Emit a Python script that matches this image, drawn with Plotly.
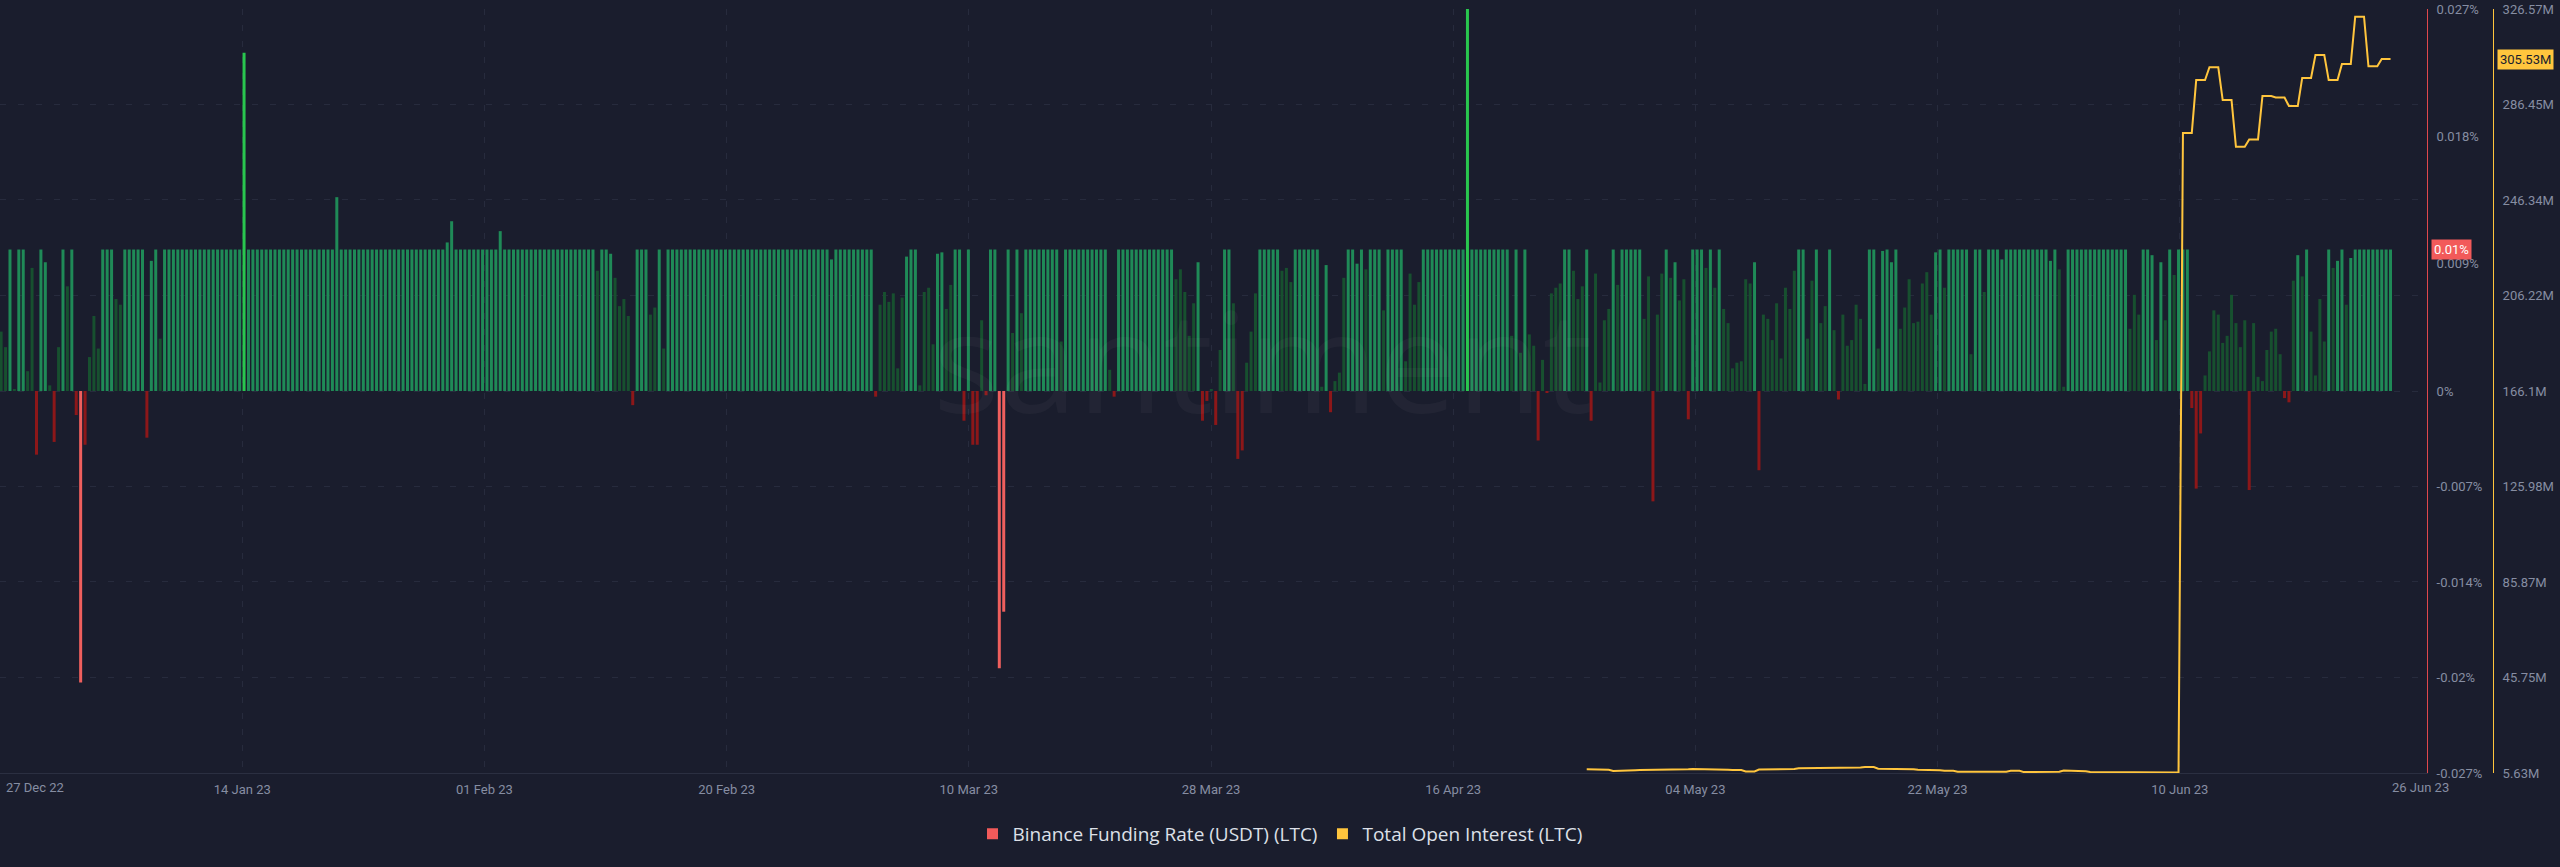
import pandas as pd
import plotly.graph_objects as go

# ---------------- data ----------------
# Binance funding rate (USDT) for LTC, in percent, one value per 8h period
funding_pct = [
    0.0042, 0.0031, 0.01, 0.0001, 0.01, 0.01, 0.0014, 0.0087, -0.0045, 0.01,
    0.0091, 0.0004, -0.0036, 0.0031, 0.01, 0.0074, 0.01, -0.0017, -0.0206, -0.0038,
    0.0024, 0.0053, 0.003, 0.01, 0.01, 0.01, 0.0065, 0.0061, 0.01, 0.01,
    0.01, 0.01, 0.01, -0.0033, 0.0092, 0.01, 0.0037, 0.01, 0.01, 0.01,
    0.01, 0.01, 0.01, 0.01, 0.01, 0.01, 0.01, 0.01, 0.01, 0.01,
    0.01, 0.01, 0.01, 0.01, 0.01, 0.0239, 0.01, 0.01, 0.01, 0.01,
    0.01, 0.01, 0.01, 0.01, 0.01, 0.01, 0.01, 0.01, 0.01, 0.01,
    0.01, 0.01, 0.01, 0.01, 0.01, 0.01, 0.0137, 0.01, 0.01, 0.01,
    0.01, 0.01, 0.01, 0.01, 0.01, 0.01, 0.01, 0.01, 0.01, 0.01,
    0.01, 0.01, 0.01, 0.01, 0.01, 0.01, 0.01, 0.01, 0.01, 0.01,
    0.01, 0.0105, 0.012, 0.01, 0.01, 0.01, 0.01, 0.01, 0.01, 0.01,
    0.01, 0.01, 0.01, 0.0113, 0.01, 0.01, 0.01, 0.01, 0.01, 0.01,
    0.01, 0.01, 0.01, 0.01, 0.01, 0.01, 0.01, 0.01, 0.01, 0.01,
    0.01, 0.01, 0.01, 0.01, 0.01, 0.0085, 0.01, 0.01, 0.0097, 0.008,
    0.006, 0.0065, 0.0053, -0.001, 0.01, 0.01, 0.01, 0.0054, 0.0059, 0.01,
    0.003, 0.01, 0.01, 0.01, 0.01, 0.01, 0.01, 0.01, 0.01, 0.01,
    0.01, 0.01, 0.01, 0.01, 0.01, 0.01, 0.01, 0.01, 0.01, 0.01,
    0.01, 0.01, 0.01, 0.01, 0.01, 0.01, 0.01, 0.01, 0.01, 0.01,
    0.01, 0.01, 0.01, 0.01, 0.01, 0.01, 0.01, 0.01, 0.0093, 0.01,
    0.01, 0.01, 0.01, 0.01, 0.01, 0.01, 0.01, 0.01, -0.0004, 0.0061,
    0.007, 0.0063, 0.0069, 0.0016, 0.0066, 0.0095, 0.01, 0.01, 0.0004, 0.007,
    0.0073, 0.0033, 0.0097, 0.0098, 0.0058, 0.0075, 0.01, 0.01, -0.0021, 0.01,
    -0.0038, -0.0038, 0.005, -0.0003, 0.01, 0.01, -0.0196, -0.0156, 0.01, 0.0041,
    0.01, 0.0055, 0.01, 0.01, 0.01, 0.01, 0.01, 0.01, 0.01, 0.01,
    0.0035, 0.01, 0.01, 0.01, 0.01, 0.01, 0.01, 0.01, 0.01, 0.01,
    0.01, 0.0015, -0.0004, 0.01, 0.01, 0.01, 0.01, 0.01, 0.01, 0.01,
    0.01, 0.01, 0.01, 0.01, 0.01, 0.01, 0.0079, 0.0086, 0.007, 0.0039,
    0.0062, 0.0091, -0.0021, -0.0007, 0.0001, -0.0024, 0.0029, 0.01, 0.01, 0.0062,
    -0.0048, -0.0042, 0.002, 0.0042, 0.0069, 0.01, 0.01, 0.01, 0.01, 0.01,
    0.0085, 0.0087, 0.0077, 0.01, 0.01, 0.01, 0.01, 0.01, 0.01, 0.0003,
    0.0089, -0.0015, 0.0007, 0.0013, 0.008, 0.01, 0.01, 0.009, 0.01, 0.0086,
    0.01, 0.01, 0.01, 0.0057, 0.01, 0.01, 0.01, 0.01, 0.0021, 0.0083,
    0.0061, 0.0077, 0.01, 0.01, 0.01, 0.01, 0.01, 0.01, 0.01, 0.01,
    0.01, 0.01, 0.027, 0.01, 0.01, 0.01, 0.01, 0.01, 0.01, 0.01,
    0.01, 0.01, 0.0039, 0.01, 0.0027, 0.01, 0.004, 0.0032, -0.0035, 0.0022,
    -0.0001, 0.0069, 0.0073, 0.0076, 0.01, 0.01, 0.0085, 0.0065, 0.0074, 0.01,
    -0.0021, 0.0083, 0.0006, 0.005, 0.0058, 0.01, 0.0075, 0.01, 0.01, 0.01,
    0.01, 0.01, 0.0051, 0.0081, -0.0078, 0.0054, 0.0083, 0.01, 0.008, 0.0091,
    0.0064, 0.0079, -0.002, 0.01, 0.01, 0.01, 0.0087, 0.01, 0.0073, 0.01,
    0.0058, 0.0048, 0.0016, 0.002, 0.0021, 0.0079, 0.0076, 0.0091, -0.0056, 0.0054,
    0.0051, 0.0036, 0.0062, 0.0023, 0.0073, 0.0058, 0.0085, 0.01, 0.01, 0.0037,
    0.0078, 0.01, 0.0048, 0.006, 0.01, 0.0043, -0.0006, 0.0054, 0.0032, 0.0036,
    0.0061, 0.0051, 0.0005, 0.01, 0.01, 0.003, 0.0099, 0.01, 0.0091, 0.01,
    0.0044, 0.0059, 0.0079, 0.0048, 0.0049, 0.0076, 0.0084, 0.0054, 0.0098, 0.01,
    0.0073, 0.01, 0.01, 0.01, 0.01, 0.01, 0.0026, 0.01, 0.01, 0.007,
    0.01, 0.01, 0.01, 0.0093, 0.01, 0.01, 0.01, 0.01, 0.01, 0.01,
    0.01, 0.01, 0.01, 0.01, 0.0092, 0.01, 0.0086, 0.0003, 0.01, 0.01,
    0.01, 0.01, 0.01, 0.01, 0.01, 0.01, 0.01, 0.01, 0.01, 0.01,
    0.01, 0.01, 0.0044, 0.0068, 0.0054, 0.01, 0.01, 0.0096, 0.0036, 0.0091,
    0.005, 0.01, 0.0082, 0.01, 0.01, 0.01, -0.0012, -0.0069, -0.003, 0.0011,
    0.0028, 0.0057, 0.0054, 0.0034, 0.0039, 0.0068, 0.0048, 0.0031, 0.005, -0.007,
    0.0048, 0.001, 0.0007, 0.0029, 0.0042, 0.0044, 0.0026, -0.0005, -0.0008, 0.0078,
    0.0096, 0.0081, 0.01, 0.0042, 0.0011, 0.0065, 0.0035, 0.01, 0.0087, 0.0092,
    0.01, 0.0061, 0.0094, 0.01, 0.01, 0.01, 0.01, 0.01, 0.01, 0.01,
    0.01, 0.01,
]

# Total open interest (LTC), millions USD, one value per day (26 Apr .. 9 Jun)
oi_daily_low_m = [
    7.2, 7.0, 6.5, 6.8, 6.9, 7.0, 7.1, 7.2, 7.3, 7.1,
    7.0, 6.9, 6.3, 7.1, 7.2, 7.3, 7.6, 7.6, 7.6, 7.7,
    7.9, 8.1, 7.4, 7.3, 7.2, 7.0, 6.8, 6.6, 6.2, 6.2,
    6.2, 6.2, 6.6, 6.0, 6.1, 6.2, 6.7, 6.4, 6.1, 6.0,
    5.9, 5.9, 5.9, 5.8, 5.8,
]
# Total open interest (LTC), millions USD, one value per day (10 Jun .. 25 Jun)
oi_daily_high_m = [
    274.5, 296.7, 302.1, 288.3, 268.7, 271.8, 290.0, 289.4,
    285.8, 297.6, 307.2, 296.7, 303.5, 323.3, 302.5, 305.53,
]

first_period = "2022-12-26 08:00"
oi_first_period_index = 359          # first 8h period that has open-interest data

x_tick_labels = ["14 Jan 23", "01 Feb 23", "20 Feb 23", "10 Mar 23", "28 Mar 23",
                 "16 Apr 23", "04 May 23", "22 May 23", "10 Jun 23"]
x_edge_labels = ["27 Dec 22", "26 Jun 23"]

fr_tick_vals = [0.027, 0.018, 0.009, 0, -0.00675, -0.0135, -0.02025, -0.027]
fr_tick_text = ["0.027%", "0.018%", "0.009%", "0%", "-0.007%", "-0.014%", "-0.02%", "-0.027%"]
oi_tick_vals = [5.63, 45.75, 85.87, 125.98, 166.10, 206.22, 246.34, 286.45, 326.57]
oi_tick_text = ["5.63M", "45.75M", "85.87M", "125.98M", "166.1M", "206.22M",
                "246.34M", "286.45M", "326.57M"]

funding_marker_value = 0.01
oi_last_value = 305.53

# ---------------- derived tables ----------------
period = pd.Timedelta(hours=8)
times = pd.date_range(first_period, periods=len(funding_pct), freq="8h")

oi_series = [None] * oi_first_period_index
for v in oi_daily_low_m + oi_daily_high_m:
    oi_series.extend([v, v, v])   # one daily value held over its three 8h periods


def bar_color(v):
    if v < -0.01:
        return "#ef5f5d"
    if v < 0:
        return "#8c1719"
    if v > 0.018:
        return "#29c64e"
    if v >= 0.0089:
        return "#1f8a57"
    return "#17502f"


colors = [bar_color(v) for v in funding_pct]

# ---------------- layout helpers ----------------
W, H = 2560, 867
PLOT_R = 2427          # right edge of plot area (px)
PLOT_T, PLOT_B = 9, 773
BAR0_PX, BAR_STEP_PX = 1.15, 4.4166


def px_to_time(px):
    return times[0] + (px - BAR0_PX) / BAR_STEP_PX * period


x_range = [px_to_time(0), px_to_time(PLOT_R)]
tick_spacing_px = 242.2
x_tickvals = [px_to_time(tick_spacing_px * (k + 1)) for k in range(len(x_tick_labels))]

bg = "#1a1d2d"
tick_color = "#868da2"
grid_color = "#272b3d"
tick_font = dict(family="Roboto", size=13, color=tick_color)

fig = go.Figure()

fig.add_trace(go.Bar(
    x=times, y=funding_pct, marker=dict(color=colors, line=dict(width=0)),
    yaxis="y", showlegend=False, hoverinfo="skip",
))
fig.add_trace(go.Scatter(
    x=times, y=oi_series, yaxis="y2", mode="lines",
    line=dict(color="#ffc53d", width=2), showlegend=False, hoverinfo="skip",
))
# legend entries
fig.add_trace(go.Scatter(
    x=[None], y=[None], mode="markers", name="Binance Funding Rate (USDT) (LTC)",
    marker=dict(symbol="square", size=11, color="#f25a5a"),
))
fig.add_trace(go.Scatter(
    x=[None], y=[None], mode="markers", name="Total Open Interest (LTC)",
    marker=dict(symbol="square", size=11, color="#ffc53d"),
))

plot_h = PLOT_B - PLOT_T

fig.update_layout(
    width=W, height=H, autosize=False,
    paper_bgcolor=bg, plot_bgcolor=bg,
    margin=dict(l=0, r=0, t=PLOT_T, b=H - PLOT_B),
    bargap=0.32,
    xaxis=dict(
        type="date", domain=[0, PLOT_R / W], range=x_range,
        tickvals=x_tickvals, ticktext=x_tick_labels, tickfont=tick_font,
        showgrid=True, gridcolor=grid_color, griddash="6px,10px", gridwidth=1,
        showline=True, linecolor="#2b2f41", linewidth=1,
        zeroline=False, ticks="", ticklabelstandoff=4,
    ),
    yaxis=dict(
        side="right", anchor="x", range=[-0.027, 0.027],
        tickvals=fr_tick_vals, ticktext=fr_tick_text, tickfont=tick_font,
        showgrid=False, zeroline=False,
        showline=True, linecolor="#e0484c", linewidth=1,
        ticks="", ticklabelstandoff=6,
    ),
    yaxis2=dict(
        overlaying="y", side="right", anchor="free", position=2493 / W,
        range=[5.63, 326.57],
        tickvals=oi_tick_vals, ticktext=oi_tick_text, tickfont=tick_font,
        showgrid=True, gridcolor=grid_color, griddash="6px,12px", gridwidth=1,
        zeroline=False,
        showline=True, linecolor="#ffc53d", linewidth=1,
        ticks="", ticklabelstandoff=6,
    ),
    legend=dict(
        orientation="h", x=0.5, xanchor="center",
        y=-(834 - PLOT_B) / plot_h, yanchor="middle",
        font=dict(family="Open Sans", size=19, color="#dde0e8"),
        itemwidth=30,
        bgcolor="rgba(0,0,0,0)", itemclick=False, itemdoubleclick=False,
    ),
    annotations=[
        dict(text="santiment", xref="paper", yref="paper",
             x=1263 / W, y=(PLOT_B - 358) / plot_h, xanchor="center", yanchor="middle",
             showarrow=False,
             font=dict(family="Open Sans", size=140, color="rgba(255,255,255,0.035)")),
        dict(text=x_edge_labels[0], xref="paper", yref="paper",
             x=4 / W, y=-(787 - PLOT_B) / plot_h, xanchor="left", yanchor="middle",
             showarrow=False, font=tick_font),
        dict(text=x_edge_labels[1], xref="paper", yref="paper",
             x=2420 / W, y=-(787 - PLOT_B) / plot_h, xanchor="center", yanchor="middle",
             showarrow=False, font=tick_font),
        dict(text=f"{funding_marker_value:g}%", xref="paper", yref="y",
             x=2431 / W, y=funding_marker_value, xanchor="left", yanchor="middle",
             showarrow=False, bgcolor="#f25a5a", borderpad=2,
             font=dict(family="Roboto", size=13, color="#ffffff")),
        dict(text=f"{oi_last_value:.2f}M", xref="paper", yref="y2",
             x=2497 / W, y=oi_last_value, xanchor="left", yanchor="middle",
             showarrow=False, bgcolor="#ffc53d", borderpad=2,
             font=dict(family="Roboto", size=13, color="#1a1d2d")),
    ],
)

fig.write_html("out.html", config={"displayModeBar": False})
